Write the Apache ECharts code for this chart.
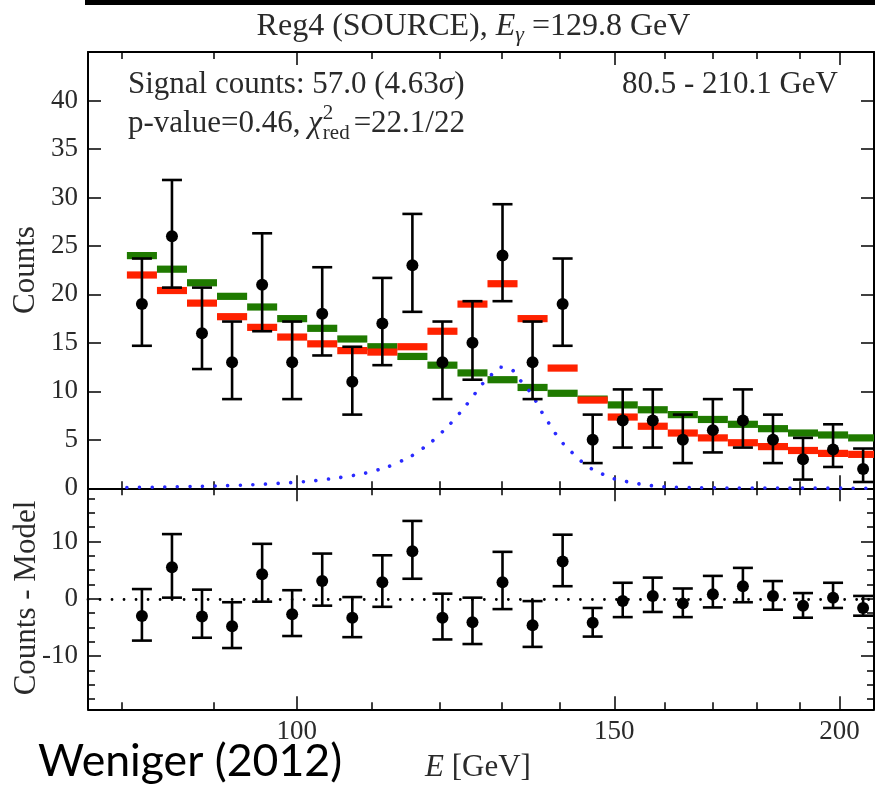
<!DOCTYPE html>
<html><head><meta charset="utf-8">
<script src="https://cdn.jsdelivr.net/npm/echarts@6/dist/echarts.min.js"></script>
<style>html,body{margin:0;padding:0;background:#fff}#c{width:875px;height:786px}</style>
</head><body><div id="c"></div><script>
// ---- data ----
const binEdges = [80.50, 83.65, 86.92, 90.32, 93.86, 97.53, 101.34, 105.31, 109.43, 113.71, 118.16, 122.78, 127.58, 132.57, 137.76, 143.15, 148.75, 154.57, 160.61, 166.90, 173.42, 180.21, 187.26, 194.58, 202.20, 210.10];
const counts   = [19, 26, 16, 13, 21, 13, 18, 11, 17, 23, 13, 15, 24, 13, 19, 5, 7, 7, 5, 6, 7, 5, 3, 4, 2];
const countsHi = [23.7, 31.8, 20.7, 17.2, 26.3, 17.2, 22.8, 14.6, 21.7, 28.3, 17.2, 19.3, 29.3, 17.2, 23.7, 7.6, 10.2, 10.2, 7.6, 9.2, 10.2, 7.6, 5.2, 6.6, 4.1];
const countsLo = [14.7, 20.7, 12.3, 9.2, 16.2, 9.2, 13.7, 7.6, 12.7, 18.2, 9.2, 11.2, 19.3, 9.2, 14.7, 2.6, 4.2, 4.2, 2.6, 3.7, 4.2, 2.6, 0.9, 2.2, 0.65];
const bgModel  = [24.0, 22.6, 21.2, 19.8, 18.7, 17.5, 16.5, 15.4, 14.6, 13.6, 12.7, 11.9, 11.2, 10.4, 9.8, 9.2, 8.6, 8.1, 7.6, 7.1, 6.6, 6.15, 5.7, 5.5, 5.2];
const sigModel = [22.0, 20.4, 19.1, 17.7, 16.6, 15.6, 14.9, 14.2, 14.05, 14.6, 16.2, 19.0, 21.1, 17.5, 12.4, 9.1, 7.35, 6.4, 5.7, 5.2, 4.7, 4.3, 3.9, 3.6, 3.5];
const residual = [-3.0, 5.5, -3.1, -4.8, 4.3, -2.7, 3.1, -3.3, 2.9, 8.3, -3.3, -4.1, 2.9, -4.6, 6.5, -4.2, -0.4, 0.5, -0.8, 0.8, 2.2, 0.5, -1.2, 0.2, -1.6];
const lineE      = [80.5, 85.0, 88.5, 91.5, 94.3, 98.6, 101.9, 105.2, 108.8, 112.3, 115.7, 118.8, 121.6, 124.2, 126.8, 128.2, 129.7, 131.7, 133.1, 134.5, 135.7, 136.8, 138.0, 139.2, 140.7, 142.3, 144.0, 145.9, 148.0, 150.4, 152.8, 155.3, 157.9, 160.4, 166.0, 172.0, 185.0, 209.0];
const lineCounts = [0.08, 0.14, 0.2, 0.27, 0.36, 0.55, 0.75, 1.06, 1.5, 2.2, 3.3, 4.8, 6.6, 8.6, 10.8, 11.7, 12.5, 12.2, 11.1, 10.1, 9.0, 7.8, 6.7, 5.6, 4.5, 3.6, 2.7, 1.95, 1.4, 0.9, 0.65, 0.41, 0.24, 0.13, 0.07, 0.04, 0.02, 0.01];
const xMinorTicks = [80, 90, 100, 110, 120, 130, 140, 150, 160, 170, 180, 190, 200];
const xMajorTicks = [100, 150, 200];
const yTopTicks = [0, 5, 10, 15, 20, 25, 30, 35, 40];
const yBotMinorTicks = [-17.5, -15, -12.5, -10, -7.5, -5, -2.5, 0, 2.5, 5, 7.5, 10, 12.5, 15, 17.5];
const yBotMajorTicks = [-10, 0, 10];

const X_MIN = 76.6, X_MAX = 209.0;
const centers = counts.map((_, i) => Math.sqrt(binEdges[i] * binEdges[i + 1]));

const SERIF = '"Liberation Serif", "DejaVu Serif", serif';
const G_UP = {left: 88, top: 52, width: 786, height: 436.3};
const G_LO = {left: 88, top: 488.3, width: 786, height: 221};

function xAx(grid, pos, ticks, len, labels, showLine) {
  return {type: 'log', logBase: 10, gridIndex: grid, position: pos, min: X_MIN, max: X_MAX,
    axisLine: {show: showLine, onZero: false, lineStyle: {color: '#000', width: 2}},
    axisTick: {show: true, inside: true, length: len, customValues: ticks, lineStyle: {color: '#000', width: 1.5}},
    axisLabel: labels ? {show: true, customValues: labels, formatter: v => String(Math.round(v)), color: '#2a2a2a', fontFamily: SERIF, fontSize: 27, margin: 9} : {show: false},
    splitLine: {show: false}, minorTick: {show: false}, minorSplitLine: {show: false}};
}
function yAx(grid, pos, min, max, ticks, len, labels, showLine, show) {
  return {type: 'value', gridIndex: grid, position: pos, min: min, max: max, show: show !== false,
    axisLine: {show: showLine, onZero: false, lineStyle: {color: '#000', width: 2}},
    axisTick: {show: true, inside: true, length: len, customValues: ticks, lineStyle: {color: '#000', width: 1.5}},
    axisLabel: labels ? {show: true, customValues: labels, color: '#2a2a2a', fontFamily: SERIF, fontSize: 27, margin: 10} : {show: false},
    splitLine: {show: false}, minorTick: {show: false}};
}

function barRender(color) {
  return function (params, api) {
    const p1 = api.coord([api.value(0), api.value(2)]);
    const p2 = api.coord([api.value(1), api.value(2)]);
    const cs = params.coordSys;
    const r = echarts.graphic.clipRectByRect({x: p1[0], y: p1[1] - 3.6, width: p2[0] - p1[0], height: 7.2},
      {x: cs.x, y: cs.y, width: cs.width, height: cs.height});
    return r ? {type: 'rect', shape: r, style: {fill: color}} : null;
  };
}
function errRender(params, api) {
  const c = api.coord([api.value(0), api.value(1)]);
  const lo = api.coord([api.value(0), api.value(2)]);
  const hi = api.coord([api.value(0), api.value(3)]);
  const st = {stroke: '#000', lineWidth: 2.6};
  const w = 10;
  return {type: 'group', children: [
    {type: 'line', shape: {x1: c[0], y1: lo[1], x2: c[0], y2: hi[1]}, style: st},
    {type: 'line', shape: {x1: c[0] - w, y1: lo[1], x2: c[0] + w, y2: lo[1]}, style: st},
    {type: 'line', shape: {x1: c[0] - w, y1: hi[1], x2: c[0] + w, y2: hi[1]}, style: st},
    {type: 'circle', shape: {cx: c[0], cy: c[1], r: 6}, style: {fill: '#000'}}
  ]};
}

// ---- text layout helper (for sub/superscripts) ----
const mctx = document.createElement('canvas').getContext('2d');
function fontStr(size, italic, fam) { return (italic ? 'italic ' : '') + size + 'px ' + (fam || SERIF); }
function tw(t, size, italic) { mctx.font = fontStr(size, italic); return mctx.measureText(t).width; }
function layoutText(segs, x, baseline, align, fill) {
  const widths = segs.map(s => (s.gap || 0) + (s.stack ? Math.max.apply(null, s.stack.map(q => tw(q.t, q.size, q.italic))) : tw(s.t, s.size, s.italic)));
  const total = widths.reduce((a, b) => a + b, 0);
  let cx = align === 'center' ? x - total / 2 : (align === 'right' ? x - total : x);
  const out = [];
  segs.forEach((s, i) => {
    (s.stack || [s]).forEach(q => {
      out.push({type: 'text', x: cx + (s.gap || 0), y: baseline + (q.dy || 0) - 0.34 * q.size,
        style: {text: q.t, font: fontStr(q.size, q.italic), fill: fill || '#2a2a2a', align: 'left', verticalAlign: 'middle', textAlign: 'left', textVerticalAlign: 'middle'}});
    });
    cx += widths[i];
  });
  return out;
}

const graphics = [];
graphics.push({type: 'rect', shape: {x: 85, y: 0, width: 790, height: 5}, style: {fill: '#000'}});
graphics.push.apply(graphics, layoutText([
  {t: 'Reg4 (SOURCE), ', size: 32}, {t: 'E', size: 32, italic: true}, {t: 'γ', size: 22, italic: true, dy: 6},
  {t: ' =129.8 GeV', size: 32}], 473.5, 37, 'center'));
graphics.push.apply(graphics, layoutText([
  {t: 'Signal counts: 57.0 (4.63', size: 31}, {t: 'σ', size: 31, italic: true}, {t: ')', size: 31}], 128, 95, 'left'));
graphics.push.apply(graphics, layoutText([
  {t: 'p-value=0.46, ', size: 31}, {t: 'χ', size: 31, italic: true},
  {stack: [{t: '2', size: 21, dy: -13}, {t: 'red', size: 21, dy: 7}], gap: 1},
  {t: '=22.1/22', size: 31, gap: 4}], 128, 134, 'left'));
graphics.push.apply(graphics, layoutText([{t: '80.5 - 210.1 GeV', size: 31}], 838, 95, 'right'));
graphics.push.apply(graphics, layoutText([{t: 'E', size: 31, italic: true}, {t: ' [GeV]', size: 31}], 478, 778, 'center'));
graphics.push({type: 'text', x: 26, y: 270, rotation: Math.PI / 2,
  style: {text: 'Counts', font: fontStr(31), fill: '#2a2a2a', align: 'center', verticalAlign: 'middle', textAlign: 'center', textVerticalAlign: 'middle'}});
graphics.push({type: 'text', x: 27, y: 598, rotation: Math.PI / 2,
  style: {text: 'Counts - Model', font: fontStr(31), fill: '#2a2a2a', align: 'center', verticalAlign: 'middle', textAlign: 'center', textVerticalAlign: 'middle'}});
// credit
(function () {
  const fam = 'Lato, "Open Sans", sans-serif';
  mctx.font = '40px ' + fam;
  const w = mctx.measureText('Weniger (2012)').width;
  const size = 40 * 304 / w;
  graphics.push({type: 'text', x: 38, y: 779 - 0.39 * size,
    style: {text: 'Weniger (2012)', font: size.toFixed(1) + 'px ' + fam, fill: '#000', align: 'left', verticalAlign: 'middle', textAlign: 'left', textVerticalAlign: 'middle'}});
})();

const chart = echarts.init(document.getElementById('c'), null, {renderer: 'canvas'});
chart.setOption({
  animation: false,
  backgroundColor: '#fff',
  grid: [Object.assign({}, G_UP), Object.assign({}, G_LO), Object.assign({}, G_UP), Object.assign({}, G_LO)],
  xAxis: [
    xAx(0, 'bottom', xMinorTicks, 7, null, true),
    xAx(0, 'top', xMinorTicks, 7, null, true),
    xAx(1, 'bottom', xMinorTicks, 7, xMajorTicks, true),
    xAx(1, 'top', xMinorTicks, 7, null, true),
    xAx(2, 'bottom', xMajorTicks, 13, null, false),
    xAx(2, 'top', xMajorTicks, 13, null, false),
    xAx(3, 'bottom', xMajorTicks, 13, null, false),
    xAx(3, 'top', xMajorTicks, 13, null, false)
  ],
  yAxis: [
    yAx(0, 'left', 0, 45, yTopTicks, 13, yTopTicks, true),
    yAx(0, 'right', 0, 45, yTopTicks, 13, null, true),
    yAx(1, 'left', -19.3, 19.3, yBotMinorTicks, 7, yBotMajorTicks, true),
    yAx(1, 'right', -19.3, 19.3, yBotMinorTicks, 7, null, true),
    yAx(2, 'left', 0, 45, [], 0, null, false, false),
    yAx(3, 'left', -19.3, 19.3, yBotMajorTicks, 13, null, false),
    yAx(3, 'right', -19.3, 19.3, yBotMajorTicks, 13, null, false)
  ],
  series: [
    {type: 'custom', name: 'background', xAxisIndex: 0, yAxisIndex: 0, z: 2, renderItem: barRender('#1f7a00'),
      encode: {x: [0, 1], y: 2}, data: bgModel.map((v, i) => [binEdges[i], binEdges[i + 1], v])},
    {type: 'custom', name: 'signal+background', xAxisIndex: 0, yAxisIndex: 0, z: 3, renderItem: barRender('#ff2200'),
      encode: {x: [0, 1], y: 2}, data: sigModel.map((v, i) => [binEdges[i], binEdges[i + 1], v])},
    {type: 'line', name: 'line', xAxisIndex: 0, yAxisIndex: 0, z: 4, showSymbol: false, smooth: 0.2,
      lineStyle: {color: '#2a2aff', width: 3.6, type: [0.01, 12.6], cap: 'round'},
      data: lineE.map((e, i) => [e, lineCounts[i]])},
    {type: 'custom', name: 'counts', xAxisIndex: 0, yAxisIndex: 0, z: 5, renderItem: errRender,
      encode: {x: 0, y: [1, 2, 3]}, data: counts.map((v, i) => [centers[i], v, countsLo[i], countsHi[i]])},
    {type: 'line', name: 'zero', xAxisIndex: 2, yAxisIndex: 2, z: 3, data: [], showSymbol: false,
      markLine: {silent: true, symbol: ['none', 'none'], label: {show: false},
        lineStyle: {color: '#000', width: 2.8, type: [0.01, 12], cap: 'round'}, data: [{yAxis: 0}]}},
    {type: 'custom', name: 'residual', xAxisIndex: 2, yAxisIndex: 2, z: 5, renderItem: errRender,
      encode: {x: 0, y: [1, 2, 3]},
      data: residual.map((v, i) => [centers[i], v, v - (counts[i] - countsLo[i]), v + (countsHi[i] - counts[i])])}
  ],
  graphic: graphics
});
</script></body></html>
